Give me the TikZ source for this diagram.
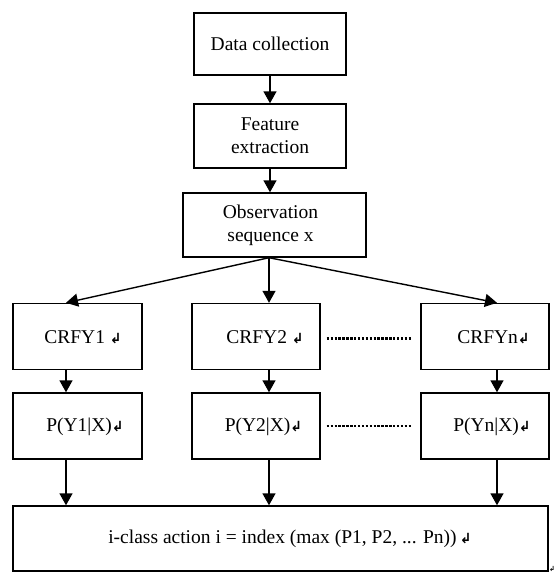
\documentclass[tikz,border=0pt]{standalone}
\usepackage{fontspec}
\setmainfont{Liberation Serif}
\newfontfamily\symfont{DejaVu Sans}
\usetikzlibrary{arrows.meta}
\newcommand{\pmark}{{\symfont\bfseries\fontsize{14}{14}\selectfont ↲}}
\begin{document}
\begin{tikzpicture}[x=1pt,y=-1pt,
  box/.style={draw,line width=1.4pt,inner sep=0pt,minimum height=#1},
  box/.default=64,
  txt/.style={font=\fontsize{19.5}{23}\selectfont,align=center,inner sep=0pt},
  arr/.style={line width=1.4pt,-{Triangle[width=13pt,length=12pt]}},
  dots/.style={line width=2.4pt,dash pattern=on 2.4pt off 1.5pt}]
\useasboundingbox (0,0) rectangle (555,573);
% boxes
\node[box=62,minimum width=152] (data) at (270,44) {};
\node[box=64,minimum width=152] (feat) at (270,136) {};
\node[box=64,minimum width=183] (obs) at (274.5,225) {};
\node[box=66,minimum width=129] (c1) at (77.5,336.5) {};
\node[box=66,minimum width=128] (c2) at (256,336.5) {};
\node[box=66,minimum width=128] (cn) at (485,336.5) {};
\node[box=66,minimum width=129] (p1) at (77.5,426) {};
\node[box=66,minimum width=128] (p2) at (256,426) {};
\node[box=66,minimum width=128] (pn) at (485,426) {};
\node[box=65,minimum width=535] (bot) at (280.5,538.5) {};
% texts
\node[txt] (datat) at (270,44) {Data collection};
\node[txt] (featt) at (270,136) {Feature\\extraction};
\node[txt] (obst) at (270.5,225) {Observation\\sequence x};
\node[txt] (c1t) at (83,337) {CRFY1 \pmark};
\node[txt] (c2t) at (265,337) {CRFY2 \pmark};
\node[txt] (cnt) at (493.5,337) {CRFYn\pmark};
\node[txt] (p1t) at (85,427) {P(Y1|X)\pmark};
\node[txt] (p2t) at (263.5,427) {P(Y2|X)\pmark};
\node[txt] (pnt) at (492,427) {P(Yn|X)\pmark};
\node[txt] (bott) at (290,539) {i-class action i = index (max (P1, P2, ... Pn))\,\pmark};
\node[inner sep=0pt,anchor=north west,font=\symfont\bfseries\fontsize{7}{7}\selectfont] (corner) at (549,566) {↲};
% column axes
\coordinate (ax1) at (66,0);
\coordinate (ax2) at (269,0);
\coordinate (ax3) at (497,0);
% connectors
\draw[arr] (data) -- (feat);
\draw[arr] (feat.south) -- (feat.south |- obs.north);
\draw[arr] (obs.south -| ax2) -- (c1.north -| ax1);
\draw[arr] (obs.south -| ax2) -- (c2.north -| ax2);
\draw[arr] (obs.south -| ax2) -- (cn.north -| ax3);
\draw[arr] (c1.south -| ax1) -- (p1.north -| ax1);
\draw[arr] (c2.south -| ax2) -- (p2.north -| ax2);
\draw[arr] (cn.south -| ax3) -- (pn.north -| ax3);
\draw[arr] (p1.south -| ax1) -- (bot.north -| ax1);
\draw[arr] (p2.south -| ax2) -- (bot.north -| ax2);
\draw[arr] (pn.south -| ax3) -- (bot.north -| ax3);
\draw[dots] ([xshift=6pt,yshift=-2pt]c2.east) -- ([xshift=-8pt,yshift=-2pt]cn.west);
\draw[dots] ([xshift=6pt]p2.east) -- ([xshift=-8pt]pn.west);
\end{tikzpicture}
\end{document}
